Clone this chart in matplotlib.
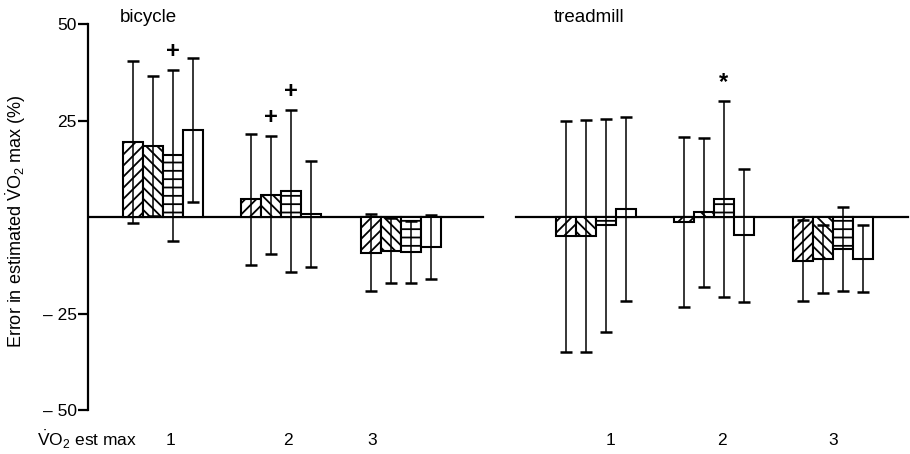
import matplotlib
matplotlib.use('Agg')
import matplotlib.pyplot as plt
import numpy as np

plt.rcParams['font.family'] = ['Liberation Sans', 'DejaVu Sans']
plt.rcParams['mathtext.fontset'] = 'custom'
plt.rcParams['mathtext.rm'] = 'Liberation Sans'
plt.rcParams['hatch.linewidth'] = 1.3

# mean error (%) and SD for the 4 estimation methods, 3 levels each
bic_means = [[19.5, 18.4, 16.0, 22.6],
             [4.6, 5.6, 6.8, 0.8],
             [-9.3, -8.7, -9.1, -7.7]]
bic_sd = [[21.0, 18.2, 22.2, 18.7],
          [17.0, 15.3, 21.0, 13.7],
          [10.0, 8.5, 8.0, 8.3]]
tread_means = [[-5.0, -4.9, -2.1, 2.0],
               [-1.2, 1.2, 4.7, -4.7],
               [-11.3, -10.9, -8.3, -10.8]]
tread_sd = [[30.0, 30.1, 27.6, 23.8],
            [22.0, 19.3, 25.4, 17.2],
            [10.5, 8.8, 10.9, 8.7]]

bic_pos = [1.0, 1.99, 3.0]
tread_pos = [4.64, 5.63, 6.63]
group_labels = ['1', '2', '3']
hatches = ['///', '\\\\\\', '--', '']

# significance marks: (panel, group, method, symbol)
marks = [('bicycle', 0, 2, '+'), ('bicycle', 1, 1, '+'), ('bicycle', 1, 2, '+'),
         ('treadmill', 1, 2, '*')]

yticks = [-50, -25, 25, 50]
ytick_labels = ['\u2013 50', '\u2013 25', '25', '50']

fig = plt.figure(figsize=(9.1, 4.54), dpi=100)
ax = fig.add_axes([88 / 910, 44 / 454, 822 / 910, 386 / 454])

w = 0.168
offsets = (np.arange(4) - 1.5) * w
panels = {'bicycle': (bic_pos, bic_means, bic_sd),
          'treadmill': (tread_pos, tread_means, tread_sd)}

for name, (pos, means, sds) in panels.items():
    for g in range(3):
        for m in range(4):
            x = pos[g] + offsets[m]
            ax.bar(x, means[g][m], width=w, facecolor='white', edgecolor='black',
                   hatch=hatches[m], linewidth=1.5, zorder=2)
            ax.errorbar(x, means[g][m], yerr=sds[g][m], fmt='none', ecolor='black',
                        elinewidth=1.1, capsize=4, capthick=1.8, zorder=3)

for name, g, m, sym in marks:
    pos, means, sds = panels[name]
    x = pos[g] + offsets[m]
    top = means[g][m] + sds[g][m]
    ax.text(x, top + 1.8, sym, ha='center', va='bottom', fontsize=17,
            fontweight='bold', color='black')

# zero lines of the two panels
ax.plot([0.37, 3.69], [0, 0], color='black', lw=1.6, zorder=1)
ax.plot([3.97, 7.26], [0, 0], color='black', lw=1.6, zorder=1)

ax.set_xlim(0.37, 7.277)
ax.set_ylim(-50, 50)
ax.set_yticks(yticks)
ax.set_yticklabels(ytick_labels, fontsize=12.5)
ax.tick_params(axis='y', direction='out', length=7, width=1.6, pad=1)
ax.set_xticks([])
for s in ['top', 'right', 'bottom']:
    ax.spines[s].set_visible(False)
ax.spines['left'].set_linewidth(1.6)

ax.set_ylabel(r'Error in estimated $\dot{\mathrm{V}}\mathrm{O}_2$ max (%)', fontsize=13)
ax.yaxis.set_label_coords(-60 / 822, 0.49)

fig.text(120 / 910, 1 - 17 / 454, 'bicycle', fontsize=13.5, va='center', ha='left')
fig.text(554 / 910, 1 - 17 / 454, 'treadmill', fontsize=13.5, va='center', ha='left')

# bottom row labels
label_x = [1.06, 2.05, 2.76, 4.76, 5.70, 6.63]
for x, lab in zip(label_x, group_labels * 2):
    ax.text(x, -0.078, lab, transform=ax.get_xaxis_transform(), ha='center',
            va='center', fontsize=12.5)
fig.text(37 / 910, 1 - 440 / 454, r'$\dot{\mathrm{V}}\mathrm{O}_2$ est max', fontsize=12.5,
         va='center', ha='left')

fig.savefig('out.png', dpi=100)
